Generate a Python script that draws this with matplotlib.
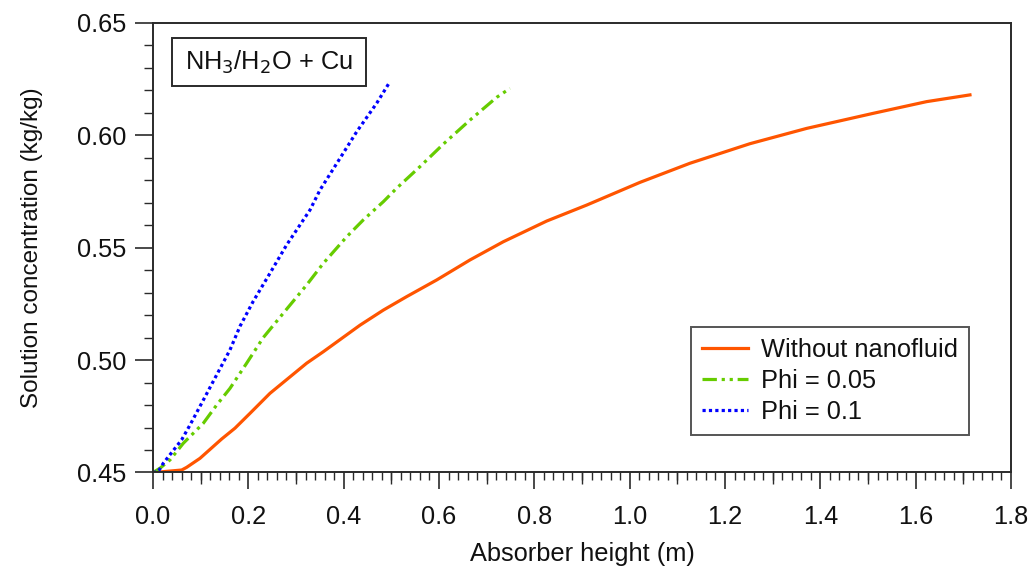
import matplotlib
matplotlib.use("Agg")
import matplotlib.pyplot as plt
from matplotlib.ticker import MultipleLocator
from matplotlib.patches import Rectangle

plt.rcParams['font.family'] = ['Liberation Sans', 'DejaVu Sans']

# ---- data ----
x_base = [0.0, 0.0078, 0.0602, 0.0707, 0.0986, 0.1441, 0.1720, 0.2035, 0.2454, 0.3224,
          0.3573, 0.4343, 0.4832, 0.5322, 0.5951, 0.6650, 0.7349, 0.8259, 0.9098,
          1.0216, 1.1265, 1.2524, 1.3713, 1.5110, 1.6230, 1.7139]
y_base = [0.4500, 0.4501, 0.4511, 0.4523, 0.4563, 0.4649, 0.4697, 0.4763, 0.4852, 0.4986,
          0.5037, 0.5155, 0.5222, 0.5282, 0.5356, 0.5445, 0.5526, 0.5618, 0.5689,
          0.5790, 0.5875, 0.5962, 0.6030, 0.6097, 0.6149, 0.6179]

x_phi05 = [0.0, 0.0147, 0.0357, 0.0636, 0.1056, 0.1336, 0.1615, 0.1965, 0.2314, 0.2733,
           0.3224, 0.3573, 0.4063, 0.4412, 0.4832, 0.5112, 0.5601, 0.6090, 0.6650,
           0.7210, 0.7489]
y_phi05 = [0.4500, 0.4519, 0.4556, 0.4630, 0.4719, 0.4800, 0.4874, 0.4986, 0.5100, 0.5208,
           0.5334, 0.5430, 0.5548, 0.5623, 0.5704, 0.5764, 0.5860, 0.5960, 0.6067,
           0.6168, 0.6208]

x_phi1 = [0.0, 0.0110, 0.0216, 0.0600, 0.0776, 0.1056, 0.1336, 0.1615, 0.1825, 0.2105,
          0.2454, 0.2804, 0.3293, 0.3503, 0.3923, 0.4273, 0.4693, 0.4972]
y_phi1 = [0.4500, 0.4504, 0.4541, 0.4645, 0.4711, 0.4822, 0.4934, 0.5045, 0.5150, 0.5262,
          0.5386, 0.5512, 0.5667, 0.5756, 0.5897, 0.6015, 0.6142, 0.6238]

labels = ["Without nanofluid", "Phi = 0.05", "Phi = 0.1"]
x_ticks = [0.0, 0.2, 0.4, 0.6, 0.8, 1.0, 1.2, 1.4, 1.6, 1.8]
y_ticks = [0.45, 0.50, 0.55, 0.60, 0.65]
box_text = "NH$_3$/H$_2$O + Cu"

FS = 18.3
fig = plt.figure(figsize=(10.33, 5.76), dpi=100)
ax = fig.add_axes([0.1481, 0.1797, 0.8306, 0.7809])

ax.plot(x_base, y_base, color='#FF5500', lw=2.3, label=labels[0])
ax.plot(x_phi05, y_phi05, color='#66CC00', lw=2.3, dashes=(4.5, 1.5, 1, 1.5, 1, 1.5),
        label=labels[1])
ax.plot(x_phi1, y_phi1, color='#0000FF', lw=2.3, dashes=(1, 1), label=labels[2])

ax.set_xlim(0, 1.8)
ax.set_ylim(0.45, 0.65)
ax.set_xticks(x_ticks)
ax.set_xticklabels([f"{v:.1f}" for v in x_ticks])
ax.set_yticks(y_ticks)
ax.set_yticklabels([f"{v:.2f}" for v in y_ticks])
ax.xaxis.set_minor_locator(MultipleLocator(0.02))
ax.yaxis.set_minor_locator(MultipleLocator(0.01))

edge = '#2a2a2a'
for s in ax.spines.values():
    s.set_linewidth(1.4)
    s.set_color(edge)

ax.tick_params(axis='x', which='major', direction='out', length=12.5, width=1.2,
               color=edge, labelsize=FS, pad=11, labelcolor='#111111')
ax.tick_params(axis='x', which='minor', direction='out', length=5.5, width=1.0, color=edge)
ax.tick_params(axis='y', which='major', direction='out', length=13, width=1.2,
               color=edge, labelsize=FS, pad=6, labelcolor='#111111')
ax.tick_params(axis='y', which='minor', direction='out', length=6.5, width=1.0, color=edge)

# medium ticks at odd tenths
sec = ax.secondary_xaxis('bottom')
sec.set_xticks([0.1, 0.3, 0.5, 0.7, 0.9, 1.1, 1.3, 1.5, 1.7])
sec.set_xticklabels([])
sec.tick_params(axis='x', direction='out', length=8.5, width=1.0, color=edge)
sec.spines['bottom'].set_visible(False)

ax.set_xlabel("Absorber height (m)", fontsize=FS, labelpad=9, color='#111111')
ax.set_ylabel("Solution concentration (kg/kg)", fontsize=17.5, labelpad=25, color='#111111')

leg = ax.legend(loc='lower right', bbox_to_anchor=(0.951, 0.083), borderaxespad=0,
                fontsize=FS, frameon=True, fancybox=False, handlelength=1.8,
                handletextpad=0.5, labelspacing=0.27, borderpad=0.45)
leg.get_frame().set_edgecolor(edge)
leg.get_frame().set_linewidth(1.4)
for t in leg.get_texts():
    t.set_color('#111111')

ax.add_patch(Rectangle((0.0225, 0.8593), 0.2254, 0.106, transform=ax.transAxes,
                       facecolor='white', edgecolor=edge, lw=1.4, zorder=5))
ax.text(0.0225 + 0.2254 / 2, 0.8593 + 0.106 / 2, box_text, transform=ax.transAxes,
        ha='center', va='center', fontsize=FS, color='#111111', zorder=6)

fig.savefig("out.png", dpi=100)
